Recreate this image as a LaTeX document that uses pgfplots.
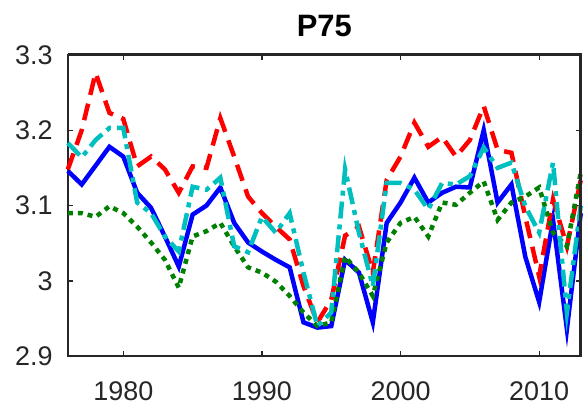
\documentclass[border=0pt]{standalone}
\usepackage{fontspec}
\setmainfont{Liberation Sans}
\usepackage{pgfplots}
\pgfplotsset{compat=1.18}
\definecolor{axgray}{rgb}{0.15,0.15,0.15}
\definecolor{mcyan}{rgb}{0,0.75,0.75}
\definecolor{mgreen}{rgb}{0,0.5,0}

\begin{document}
\begin{tikzpicture}
\begin{axis}[
    width=514pt, height=302pt, scale only axis,
    xmin=1976, xmax=2013, ymin=2.9, ymax=3.3,
    xtick={1980,1990,2000,2010},
    xticklabels={1980,1990,2000,2010},
    ytick={2.9,3.0,3.1,3.2,3.3},
    yticklabels={2.9,3,3.1,3.2,3.3},
    /pgf/number format/assume math mode=true,
    tick align=inside, major tick length=5pt,
    xtick pos=both, ytick pos=both,
    axis line style={axgray, line width=1.5pt},
    every tick/.style={axgray, line width=1.2pt},
    tick label style={font=\fontsize{27}{32}\selectfont, text=axgray, inner sep=0pt},
    xticklabel style={yshift=-25pt},
    yticklabel style={xshift=-15pt},
    title={P75},
    title style={at={(0.5,1)}, anchor=base, yshift=12pt, inner sep=0pt,
        font=\fontsize{31}{36}\selectfont\bfseries},
    clip=false,
]
% blue solid
\addplot[blue, line width=4.5pt] coordinates {
(1976,3.146) (1977,3.128) (1978,3.153) (1979,3.178) (1980,3.165)
(1981,3.117) (1982,3.097) (1983,3.059) (1984,3.019) (1985,3.088)
(1986,3.100) (1987,3.124) (1988,3.077) (1989,3.051) (1990,3.039)
(1991,3.028) (1992,3.018) (1993,2.945) (1994,2.938) (1995,2.940)
(1996,3.028) (1997,3.011) (1998,2.945) (1999,3.077) (2000,3.104)
(2001,3.137) (2002,3.104) (2003,3.117) (2004,3.125) (2005,3.124)
(2006,3.200) (2007,3.104) (2008,3.128) (2009,3.032) (2010,2.972)
(2011,3.081) (2012,2.936) (2013,3.090)
};
% red dashed
\addplot[red, line width=4.5pt, dash pattern=on 17pt off 9pt] coordinates {
(1976,3.148) (1977,3.200) (1978,3.276) (1979,3.223) (1980,3.215)
(1981,3.152) (1982,3.165) (1983,3.148) (1984,3.117) (1985,3.152)
(1986,3.150) (1987,3.216) (1988,3.165) (1989,3.112) (1990,3.090)
(1991,3.072) (1992,3.055) (1993,2.993) (1994,2.945) (1995,2.975)
(1996,3.060) (1997,3.072) (1998,3.011) (1999,3.134) (2000,3.165)
(2001,3.210) (2002,3.178) (2003,3.191) (2004,3.165) (2005,3.187)
(2006,3.232) (2007,3.174) (2008,3.170) (2009,3.085) (2010,3.006)
(2011,3.108) (2012,3.046) (2013,3.134)
};
% green dotted
\addplot[mgreen, line width=4.5pt, dash pattern=on 5pt off 5pt] coordinates {
(1976,3.090) (1977,3.090) (1978,3.085) (1979,3.099) (1980,3.090)
(1981,3.072) (1982,3.051) (1983,3.028) (1984,2.991) (1985,3.059)
(1986,3.066) (1987,3.077) (1988,3.046) (1989,3.018) (1990,3.011)
(1991,2.999) (1992,2.980) (1993,2.958) (1994,2.940) (1995,2.945)
(1996,3.032) (1997,3.011) (1998,2.980) (1999,3.051) (2000,3.077)
(2001,3.085) (2002,3.059) (2003,3.104) (2004,3.101) (2005,3.117)
(2006,3.132) (2007,3.081) (2008,3.104) (2009,3.112) (2010,3.124)
(2011,3.064) (2012,3.046) (2013,3.144)
};
% cyan dash-dot
\addplot[mcyan, line width=4.5pt, dash pattern=on 17pt off 6pt on 5pt off 6pt] coordinates {
(1976,3.183) (1977,3.164) (1978,3.187) (1979,3.203) (1980,3.203)
(1981,3.104) (1982,3.090) (1983,3.059) (1984,3.039) (1985,3.125)
(1986,3.121) (1987,3.137) (1988,3.046) (1989,3.038) (1990,3.085)
(1991,3.064) (1992,3.090) (1993,3.011) (1994,2.940) (1995,2.958)
(1996,3.148) (1997,3.064) (1998,2.993) (1999,3.130) (2000,3.130)
(2001,3.121) (2002,3.095) (2003,3.130) (2004,3.128) (2005,3.139)
(2006,3.177) (2007,3.150) (2008,3.157) (2009,3.099) (2010,3.064)
(2011,3.157) (2012,2.958) (2013,3.100)
};
% top and right frame, drawn again so they show at this size
\draw[axgray, line width=3pt, solid] (rel axis cs:0,1) -- (rel axis cs:1,1) -- (rel axis cs:1,0);
\path ([xshift=-68pt,yshift=-50pt]rel axis cs:0,0) rectangle ([xshift=1.5pt,yshift=55pt]rel axis cs:1,1);
\end{axis}
\end{tikzpicture}
\end{document}
